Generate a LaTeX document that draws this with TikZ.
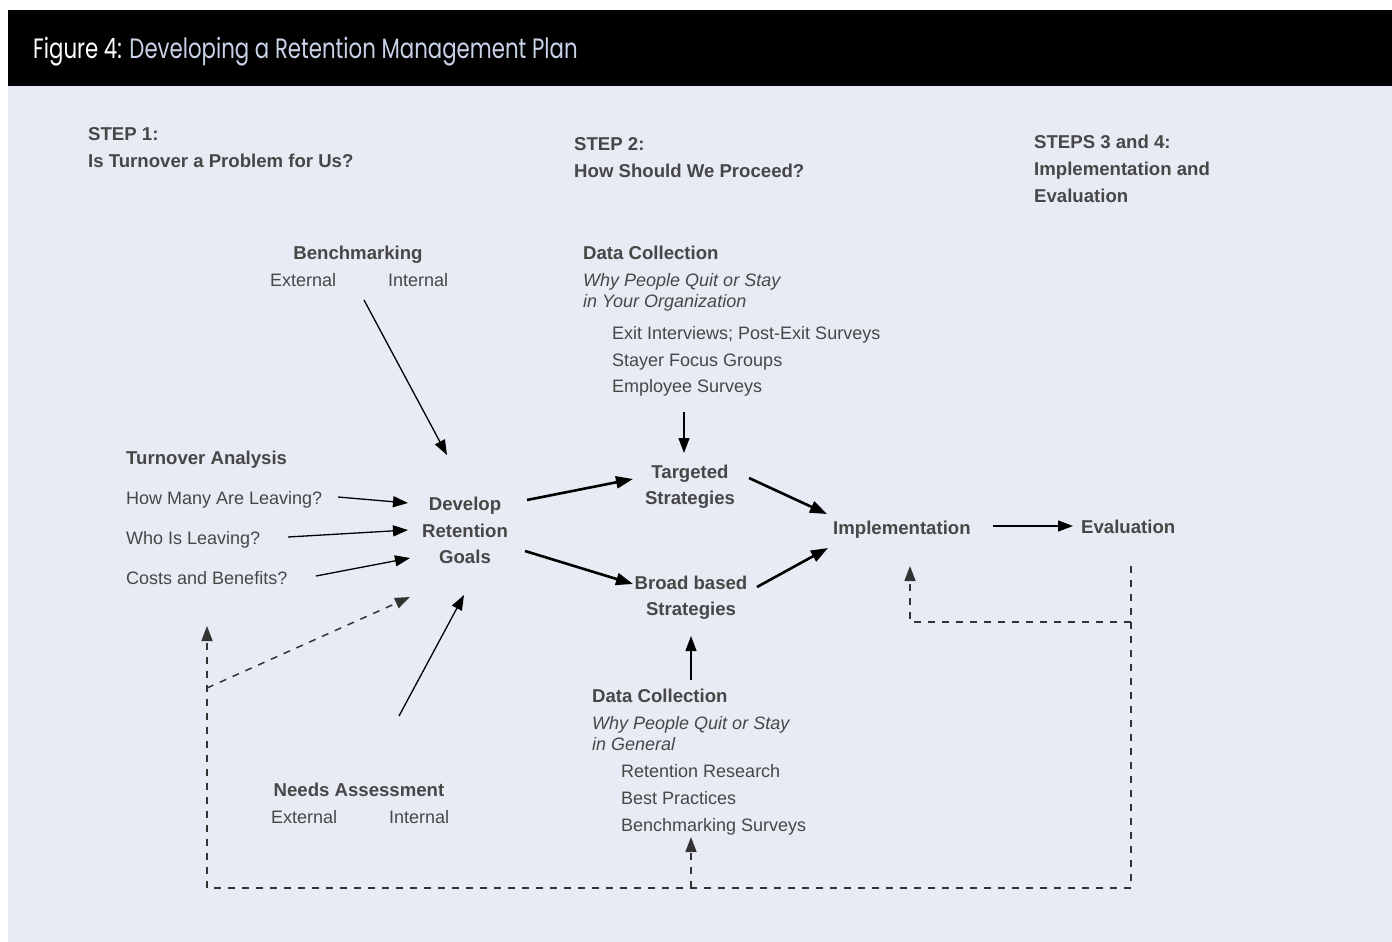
\documentclass[tikz,border=0pt]{standalone}
\usepackage{fontspec}
\setmainfont{Liberation Sans}
\newfontfamily\titlefont{Poppins}
\usetikzlibrary{arrows.meta}
\definecolor{bg}{HTML}{E7EBF4}
\definecolor{txt}{HTML}{474747}
\definecolor{ttl}{HTML}{C8D2E8}
\definecolor{dsh}{HTML}{333333}
\tikzset{
  bt/.style={font=\bfseries\fontsize{18.6}{22}\selectfont, text=txt, inner sep=0pt, anchor=base west},
  bc/.style={bt, anchor=base},
  rt/.style={font=\fontsize{18}{22}\selectfont, text=txt, inner sep=0pt, anchor=base west},
  itx/.style={font=\itshape\fontsize{18}{22}\selectfont, text=txt, inner sep=0pt, anchor=base west},
  arr/.style={-{Triangle[length=15pt,width=11pt]}, line width=1.3pt, draw=black},
  tarr/.style={-{Triangle[length=17pt,width=12pt]}, line width=2.6pt, draw=black},
  dline/.style={line width=1.5pt, draw=dsh, dash pattern=on 7pt off 7pt},
  darr/.style={dline, -{Triangle[length=15pt,width=11pt]}}
}
\begin{document}
\begin{tikzpicture}[x=1pt,y=-1pt]
\useasboundingbox (0,0) rectangle (1392,942);
\fill[white] (0,0) rectangle (1392,942);
\fill[black] (8,10) rectangle (1392,86);
\fill[bg] (8,86) rectangle (1392,942);
\node[anchor=base west, inner sep=0pt] (title) at (33,59)
  {\titlefont\fontsize{28}{32}\selectfont\scalebox{0.76}[1]{\textcolor{white}{Figure 4:} \textcolor{ttl}{Developing a Retention Management Plan}}};

% step headings
\node[bt] (s1a) at (88,140) {STEP 1:};
\node[bt] (s1b) at (88,167) {Is Turnover a Problem for Us?};
\node[bt] (s2a) at (574,150) {STEP 2:};
\node[bt] (s2b) at (574,177) {How Should We Proceed?};
\node[bt] (s3a) at (1034,148) {STEPS 3 and 4:};
\node[bt] (s3b) at (1034,175) {Implementation and};
\node[bt] (s3c) at (1034,202) {Evaluation};

% benchmarking
\node[bc] (bm) at (358,259) {Benchmarking};
\node[rt] (bmext) at (270,286) {External};
\node[rt] (bmint) at (388,286) {Internal};

% data collection top
\node[bt] (dc1) at (583,259) {Data Collection};
\node[itx] (dc1a) at (583,286) {Why People Quit or Stay};
\node[itx] (dc1b) at (583,307) {in Your Organization};
\node[rt] (dc1c) at (612,339) {Exit Interviews; Post-Exit Surveys};
\node[rt] (dc1d) at (612,366) {Stayer Focus Groups};
\node[rt] (dc1e) at (612,392) {Employee Surveys};

% turnover analysis
\node[bt] (ta) at (126,464) {Turnover Analysis};
\node[rt] (howmany) at (126,504) {How Many Are Leaving?};
\node[rt] (who) at (126,544) {Who Is Leaving?};
\node[rt] (costs) at (126,584) {Costs and Benefits?};

% develop
\node[bc] (dev1) at (465,510) {Develop};
\node[bc] (dev2) at (465,537) {Retention};
\node[bc] (dev3) at (465,563) {Goals};

% strategies
\node[bc] (tg1) at (690,478) {Targeted};
\node[bc] (tg2) at (690,504) {Strategies};
\node[bc] (bb1) at (691,589) {Broad based};
\node[bc] (bb2) at (691,615) {Strategies};

\node[bt] (impl) at (833,534) {Implementation};
\node[bt] (eval) at (1081,533) {Evaluation};

% data collection bottom
\node[bt] (dc2) at (592,702) {Data Collection};
\node[itx] (dc2a) at (592,729) {Why People Quit or Stay};
\node[itx] (dc2b) at (592,750) {in General};
\node[rt] (dc2c) at (621,777) {Retention Research};
\node[rt] (dc2d) at (621,804) {Best Practices};
\node[rt] (dc2e) at (621,831) {Benchmarking Surveys};

% needs assessment
\node[bc] (na) at (359,796) {Needs Assessment};
\node[rt] (naext) at (271,823) {External};
\node[rt] (naint) at (389,823) {Internal};

% connector end points
\coordinate (bmS) at (364,300);
\coordinate (bmE) at (447,455);
\coordinate (hmS) at (338,497);
\coordinate (hmE) at (408,503);
\coordinate (whS) at (288,537);
\coordinate (whE) at (408,530);
\coordinate (coS) at (316,576);
\coordinate (coE) at (410,558);
\coordinate (naS) at (399,716);
\coordinate (naE) at (464,595);
\coordinate (dtS) at (527,500);
\coordinate (dtE) at (633,479);
\coordinate (dbS) at (525,551);
\coordinate (dbE) at (633,584);
\coordinate (tiS) at (749,478);
\coordinate (tiE) at (827,514);
\coordinate (biS) at (757,587);
\coordinate (biE) at (828,548);
\coordinate (ieS) at (993,526);
\coordinate (ieE) at (1073,526);
\coordinate (esS) at (684,412);
\coordinate (esE) at (684,453);
\coordinate (dcS) at (691,680);
\coordinate (dcE) at (691,636);

\draw[arr] (bmS) -- (bmE);
\draw[arr] (hmS) -- (hmE);
\draw[arr] (whS) -- (whE);
\draw[arr] (coS) -- (coE);
\draw[arr] (naS) -- (naE);
\draw[tarr] (dtS) -- (dtE);
\draw[tarr] (dbS) -- (dbE);
\draw[tarr] (tiS) -- (tiE);
\draw[tarr] (biS) -- (biE);
\draw[arr] (ieS) -- (ieE);
\draw[arr] (esS) -- (esE);
\draw[arr] (dcS) -- (dcE);

% dashed feedback loops
\coordinate (evD) at (1131,566);
\coordinate (brR) at (1131,888);
\coordinate (brL) at (207,888);
\coordinate (lfT) at (207,626);
\coordinate (lfK) at (207,688);
\coordinate (dgE) at (410,597);
\coordinate (inR) at (1131,622);
\coordinate (inL) at (910,622);
\coordinate (imT) at (910,566);
\coordinate (bmid) at (691,888);
\coordinate (bmidT) at (691,837);

\draw[darr] (evD) -- (brR) -- (brL) -- (lfT);
\draw[darr] (lfK) -- (dgE);
\draw[darr] (inR) -- (inL) -- (imT);
\draw[darr] (bmid) -- (bmidT);
\end{tikzpicture}
\end{document}
